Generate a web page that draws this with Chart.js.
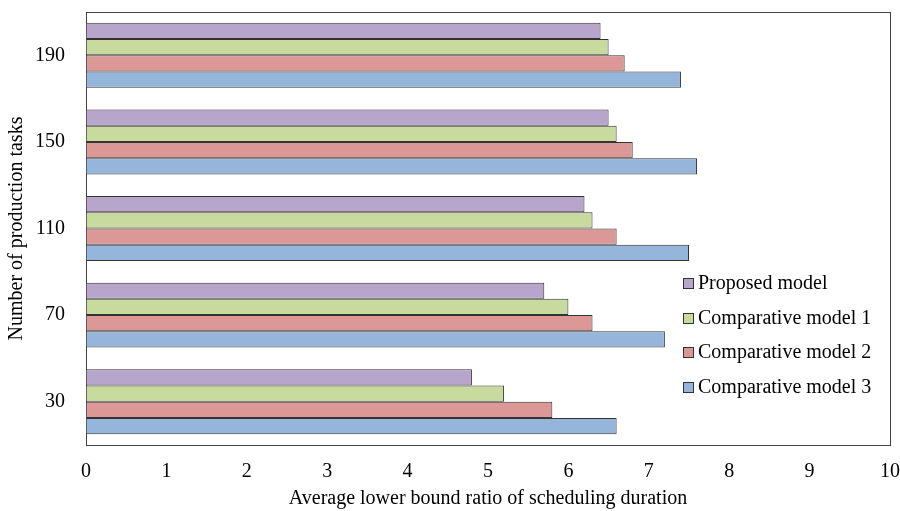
<!DOCTYPE html>
<html>
<head>
<meta charset="utf-8">
<script src="https://cdn.jsdelivr.net/npm/chart.js@4/dist/chart.umd.min.js"></script>
<style>
  html, body { margin: 0; padding: 0; background: #fff; }
  canvas { display: block; }
</style>
</head>
<body>
<canvas id="barChart" width="900" height="511"></canvas>
<script>
// data (top group first)
const taskCounts = ['190', '150', '110', '70', '30'];
const proposedModel = [6.4, 6.5, 6.2, 5.7, 4.8];
const comparative1 = [6.5, 6.6, 6.3, 6.0, 5.2];
const comparative2 = [6.7, 6.8, 6.6, 6.3, 5.8];
const comparative3 = [7.4, 7.6, 7.5, 7.2, 6.6];
const xTicks = [0, 1, 2, 3, 4, 5, 6, 7, 8, 9, 10];

const serif = '"Liberation Serif", "Times New Roman", serif';

// frame around the plot area
const frameBox = {
    id: 'frameBox',
    beforeDatasetsDraw(chart) {
        const a = chart.chartArea;
        const ctx = chart.ctx;
        ctx.save();
        ctx.strokeStyle = '#444';
        ctx.lineWidth = 1;
        ctx.strokeRect(Math.round(a.left) + 0.5, Math.round(a.top) + 0.5,
            Math.round(a.right - a.left), Math.round(a.bottom - a.top));
        ctx.restore();
    }
};

// legend sitting inside the plot, lower right
const insideLegend = {
    id: 'insideLegend',
    afterDraw(chart) {
        const ctx = chart.ctx;
        const a = chart.chartArea;
        const x = Math.round(a.right - 207);
        let y = a.top + 271;
        ctx.save();
        ctx.font = '20px ' + serif;
        ctx.textBaseline = 'middle';
        chart.data.datasets.forEach(ds => {
            const by = Math.round(y - 5);
            ctx.fillStyle = ds.backgroundColor;
            ctx.fillRect(x, by, 10, 10);
            ctx.strokeStyle = '#333';
            ctx.lineWidth = 1;
            ctx.strokeRect(x + 0.5, by + 0.5, 10, 10);
            ctx.fillStyle = '#000';
            ctx.fillText(ds.label, x + 15, y + 1);
            y += 34.5;
        });
        ctx.restore();
    }
};

new Chart(document.getElementById('barChart'), {
    type: 'bar',
    data: {
        labels: taskCounts,
        datasets: [{
            label: 'Proposed model',
            data: proposedModel,
            backgroundColor: '#B7A5CC'
        }, {
            label: 'Comparative model 1',
            data: comparative1,
            backgroundColor: '#C9DA9E'
        }, {
            label: 'Comparative model 2',
            data: comparative2,
            backgroundColor: '#DB9896'
        }, {
            label: 'Comparative model 3',
            data: comparative3,
            backgroundColor: '#95B6DA'
        }]
    },
    options: {
        indexAxis: 'y',
        responsive: false,
        animation: false,
        layout: {
            padding: { top: -2, right: 2, bottom: 0, left: 5 }
        },
        datasets: {
            bar: {
                borderColor: '#333',
                borderWidth: 1,
                categoryPercentage: 0.75,
                barPercentage: 1
            }
        },
        plugins: {
            legend: { display: false },
            tooltip: { enabled: false }
        },
        scales: {
            x: {
                min: 0,
                max: 10,
                afterBuildTicks(scale) {
                    scale.ticks = xTicks.map(v => ({ value: v }));
                },
                // invisible tick marks give the label gap without extra side padding
                grid: { drawOnChartArea: false, drawTicks: true, tickLength: 15, color: 'transparent' },
                border: { display: false },
                ticks: {
                    color: '#000',
                    padding: 0,
                    font: { family: serif, size: 20 }
                },
                title: {
                    display: true,
                    text: 'Average lower bound ratio of scheduling duration',
                    color: '#000',
                    padding: { top: 3, bottom: 0 },
                    font: { family: serif, size: 20 }
                }
            },
            y: {
                grid: { drawOnChartArea: false, drawTicks: true, tickLength: 21, color: 'transparent' },
                border: { display: false },
                ticks: {
                    color: '#000',
                    padding: 0,
                    font: { family: serif, size: 20 }
                },
                title: {
                    display: true,
                    text: 'Number of production tasks',
                    color: '#000',
                    padding: { top: 0, bottom: 6 },
                    font: { family: serif, size: 20 }
                }
            }
        }
    },
    plugins: [frameBox, insideLegend]
});
</script>
</body>
</html>
